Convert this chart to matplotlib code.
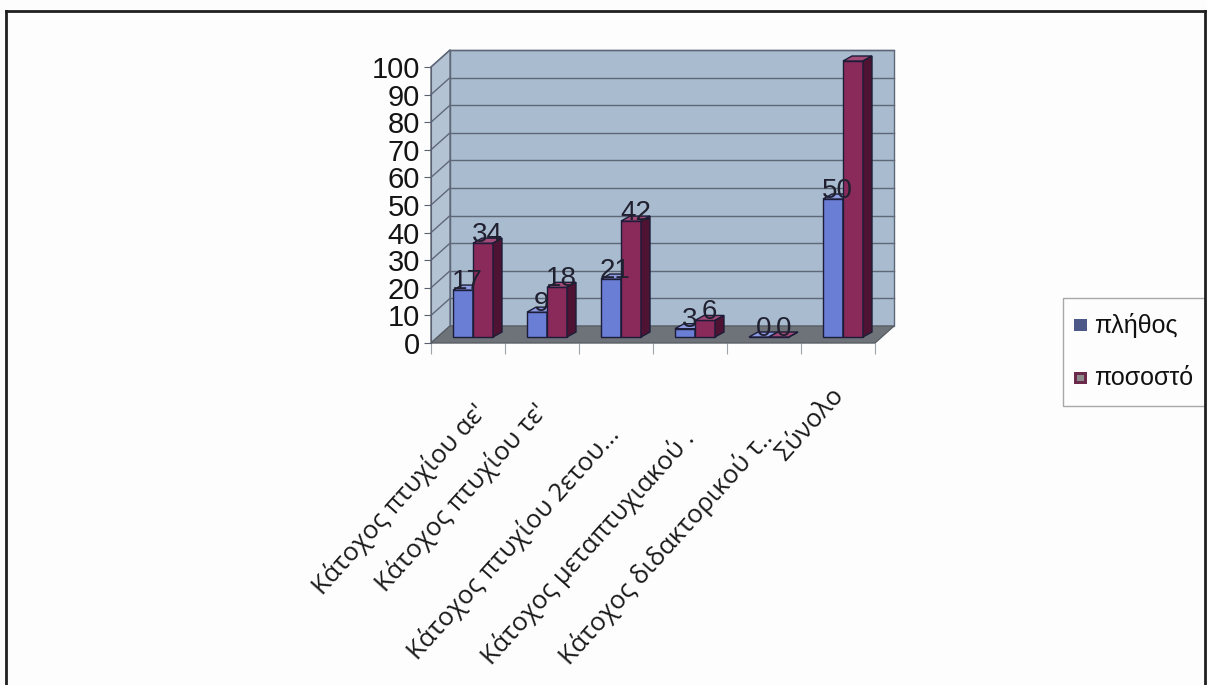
import numpy as np
import matplotlib.pyplot as plt
from matplotlib.patches import Polygon, Rectangle
from matplotlib.lines import Line2D

# δεδομένα: πλήθος και ποσοστό ανά τίτλο σπουδών
categories = ["Κάτοχος πτυχίου αε'", "Κάτοχος πτυχίου τε'", "Κάτοχος πτυχίου 2ετου...",
              "Κάτοχος μεταπτυχιακού .", "Κάτοχος διδακτορικού τ..", "Σύνολο"]
plithos = [17, 9, 21, 3, 0, 50]
pososto = [34, 18, 42, 6, 0, 100]
series_names = ["πλήθος", "ποσοστό"]
yticks = list(range(0, 101, 10))

W, H = 1207, 685
fig = plt.figure(figsize=(W / 100, H / 100), dpi=100)
fig.patch.set_facecolor('#fcfdfc')
num_font = ['Liberation Sans Narrow', 'Liberation Sans']

# μπροστινό επίπεδο του άξονα σε pixel
x0, x1 = 431, 875
y0, y1 = 343, 67
ax = fig.add_axes([x0 / W, (H - y0) / H, (x1 - x0) / W, (y0 - y1) / H])
ax.set_xlim(0, len(categories))
ax.set_ylim(0, 100)
ax.patch.set_visible(False)

sx = len(categories) / (x1 - x0)   # μονάδες x ανά pixel
sy = 100 / (y0 - y1)               # μονάδες y ανά pixel
n = len(categories)

# βάθος τοίχων και ράβδων (pixel -> μονάδες)
dX, dY = 19 * sx, 17 * sy
offX, offY = 5 * sx, 6 * sy
bdX, bdY = 9 * sx, 5 * sy
bw = 20 * sx

wall_c = '#a9bbcf'
grid_c = '#5f6878'
# πίσω τοίχος, πλαϊνός τοίχος, δάπεδο
ax.add_patch(Polygon([(dX, dY), (n + dX, dY), (n + dX, 100 + dY), (dX, 100 + dY)],
                     facecolor=wall_c, edgecolor=grid_c, lw=1, zorder=1, clip_on=False))
ax.add_patch(Polygon([(0, 0), (dX, dY), (dX, 100 + dY), (0, 100)],
                     facecolor='#b4c3d4', edgecolor=grid_c, lw=1, zorder=1, clip_on=False))
for v in yticks[1:]:
    ax.plot([dX, n + dX], [v + dY, v + dY], color=grid_c, lw=1, zorder=2, clip_on=False)
    ax.plot([0, dX], [v, v + dY], color=grid_c, lw=1, zorder=2, clip_on=False)
ax.add_patch(Polygon([(0, 0), (n, 0), (n + dX, dY), (dX, dY)],
                     facecolor='#6e7379', edgecolor='#5a5f66', lw=1, zorder=3, clip_on=False))

colors = [('#6b7ed6', '#8c9be2', '#4657a8'), ('#8a2a5a', '#a24a78', '#4e1333')]
edge = '#1c1c38'
z = 4
for i in range(n):
    for s, vals in enumerate([plithos, pososto]):
        v = vals[i]
        front, top, side = colors[s]
        xl = i + 0.5 - bw + s * bw + offX
        ax.bar(xl, v, bottom=offY, width=bw, align='edge', color=front,
               edgecolor=edge, lw=1, zorder=z, clip_on=False)
        yt = v + offY
        ax.add_patch(Polygon([(xl, yt), (xl + bw, yt), (xl + bw + bdX, yt + bdY), (xl + bdX, yt + bdY)],
                             facecolor=top, edgecolor=edge, lw=1, zorder=z, clip_on=False))
        ax.add_patch(Polygon([(xl + bw, offY), (xl + bw + bdX, offY + bdY),
                              (xl + bw + bdX, yt + bdY), (xl + bw, yt)],
                             facecolor=side, edgecolor=edge, lw=1, zorder=z, clip_on=False))
        z += 1
        ax.annotate(str(v), (xl + bw / 2 + bdX / 2, yt), xytext=(0, 6),
                    textcoords='offset points', ha='center', va='center',
                    fontsize=20, family=num_font, color='#202030', zorder=50)

# άξονες
for sp in ['top', 'right']:
    ax.spines[sp].set_visible(False)
ax.spines['left'].set_color('#5a6070')
ax.spines['bottom'].set_visible(False)
ax.set_yticks(yticks)
ax.set_yticklabels([str(t) for t in yticks], fontsize=21, family=num_font, color='#141414')
ax.tick_params(axis='y', length=5, color='#5a6070', pad=3)
ax.set_xticks(range(n + 1))
ax.set_xticklabels([])
ax.tick_params(axis='x', length=8, color='#a0a4a8')

def px(x, y):
    return x / W, (H - y) / H

# ετικέτες κατηγοριών (δεξί άκρο κειμένου σε pixel)
label_ends = [(482, 408), (543, 407), (615, 430), (690, 434), (768, 434), (840, 392)]
for lab, (ex, ey) in zip(categories, label_ends):
    fx, fy = px(ex, ey)
    fig.text(fx, fy, lab, rotation=48, rotation_mode='anchor', ha='right', va='center',
             fontsize=18.5, family='Open Sans', color='#1a1a1a')

# υπόμνημα
lx, ly = px(1063, 406)
fig.add_artist(Rectangle((lx, ly), 142 / W, 108 / H, transform=fig.transFigure,
                         facecolor='none', edgecolor='#a8a8a8', lw=1))
leg_cols = ['#4c5888', '#6b2a4c']
for k, (name, c) in enumerate(zip(series_names, leg_cols)):
    yy = 325 + k * 53
    mx, my = px(1074, yy + 6)
    fig.add_artist(Rectangle((mx, my), 13 / W, 12 / H, transform=fig.transFigure,
                             facecolor=c, edgecolor='none'))
    if k == 1:
        ix, iy = px(1077, yy + 3)
        fig.add_artist(Rectangle((ix, iy), 7 / W, 6 / H, transform=fig.transFigure,
                                 facecolor='#8c8c8c', edgecolor='none'))
    tx, ty = px(1094, yy)
    fig.text(tx, ty, name, fontsize=18, family='Liberation Sans', va='center', color='#111111')

# πλαίσιο γραφήματος
for xs, ys in [([6, 6], [11, 690]), ([6, 1205], [11, 11]), ([1205, 1205], [11, 690])]:
    fig.add_artist(Line2D([x / W for x in xs], [(H - y) / H for y in ys],
                          transform=fig.transFigure, color='#202020', lw=2))

fig.savefig('out.png', dpi=100, facecolor=fig.get_facecolor())
